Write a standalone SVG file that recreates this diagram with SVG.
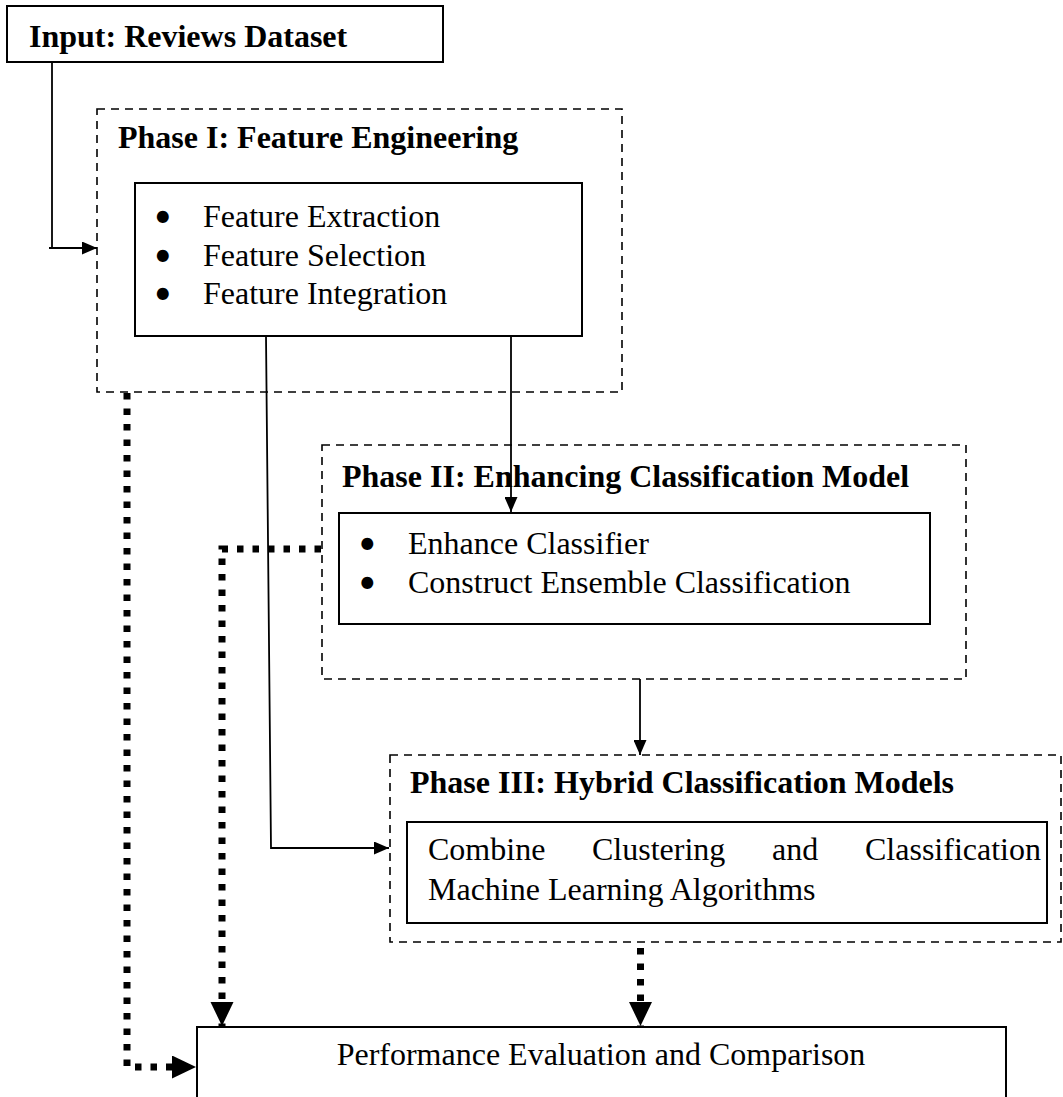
<svg xmlns="http://www.w3.org/2000/svg" width="1063" height="1097" viewBox="0 0 1063 1097">
<style>
.bg{fill:#fff}
.box{fill:#fff;stroke:#000;stroke-width:2}
.phase{fill:none;stroke:#000;stroke-width:1.6;stroke-dasharray:8 6}
.t{font-family:"Liberation Serif","Times New Roman",serif;font-size:32px;fill:#000}
.b{font-weight:bold}
.bul{font-family:Lato,"Liberation Serif",serif;font-size:32px;fill:#000}
.ln{fill:none;stroke:#000;stroke-width:1.8}
.dot{fill:none;stroke:#000;stroke-width:7;stroke-dasharray:6.5 9}
</style>
<defs>
<marker id="ah" markerUnits="userSpaceOnUse" markerWidth="15" markerHeight="13" refX="15" refY="6.5" orient="auto">
<path d="M0,0 L15,6.5 L0,13 z" fill="#000"/>
</marker>
<marker id="ahb" markerUnits="userSpaceOnUse" markerWidth="24" markerHeight="24" refX="24" refY="11.5" orient="auto">
<path d="M0,0 L24,11.5 L0,23 z" fill="#000"/>
</marker>
</defs>
<rect class="bg" x="0" y="0" width="1063" height="1097"/>

<g id="phase1">
<rect class="phase" x="97" y="109" width="525" height="283"/>
<text class="t b" x="118" y="148">Phase I: Feature Engineering</text>
</g>
<g id="phase2">
<rect class="phase" x="322" y="445" width="644" height="234"/>
<text class="t b" x="342" y="487">Phase II: Enhancing Classification Model</text>
</g>
<g id="phase3">
<rect class="phase" x="390" y="755" width="671" height="187"/>
<text class="t b" x="410" y="793">Phase III: Hybrid Classification Models</text>
</g>

<g id="connectors">
<polyline class="ln" points="52,62 52,248"/>
<polyline class="ln" points="49,248 97,248" marker-end="url(#ah)"/>
<polyline class="ln" points="266,336 271,848 389,848" marker-end="url(#ah)"/>
<polyline class="ln" points="511,336 511,512" marker-end="url(#ah)"/>
<polyline class="ln" points="640,679 640,755" marker-end="url(#ah)"/>
<polyline class="dot" points="127,393 127,1067 196,1067" marker-end="url(#ahb)"/>
<polyline class="dot" points="321,549 222,549 222,1026" marker-end="url(#ahb)"/>
<polyline class="dot" points="640.5,948 640.5,1026" marker-end="url(#ahb)"/>
</g>

<g id="input">
<rect class="box" x="7" y="6" width="436" height="56"/>
<text class="t b" x="29" y="47">Input: Reviews Dataset</text>
</g>

<g id="features">
<rect class="box" x="135" y="183" width="447" height="153"/>
<text class="bul"><tspan x="153.5" y="227">•</tspan><tspan x="153.5" y="265.5">•</tspan><tspan x="153.5" y="304">•</tspan></text>
<text class="t"><tspan x="203" y="227">Feature Extraction</tspan><tspan x="203" y="265.5">Feature Selection</tspan><tspan x="203" y="304">Feature Integration</tspan></text>
</g>

<g id="classifier">
<rect class="box" x="339" y="513" width="591" height="111"/>
<text class="bul"><tspan x="358" y="554">•</tspan><tspan x="358" y="593">•</tspan></text>
<text class="t"><tspan x="408" y="554">Enhance Classifier</tspan><tspan x="408" y="593">Construct Ensemble Classification</tspan></text>
</g>

<g id="hybrid">
<rect class="box" x="407" y="822" width="640" height="101"/>
<text class="t"><tspan x="428" y="860">Combine</tspan><tspan x="592" y="860">Clustering</tspan><tspan x="772" y="860">and</tspan><tspan x="865" y="860">Classification</tspan><tspan x="428" y="900">Machine Learning Algorithms</tspan></text>
</g>

<g id="performance">
<rect class="box" x="197" y="1027" width="809" height="80"/>
<text class="t" x="601" y="1065" text-anchor="middle">Performance Evaluation and Comparison</text>
</g>
</svg>
